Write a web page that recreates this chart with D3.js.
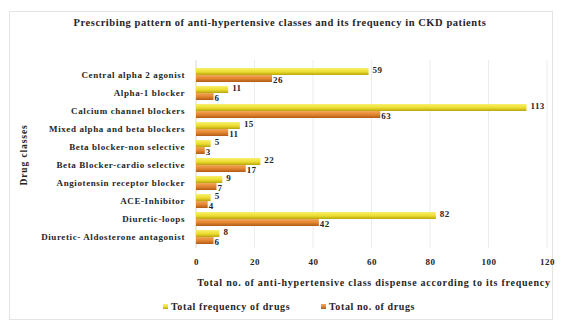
<!DOCTYPE html>
<html><head><meta charset="utf-8">
<script src="https://cdn.jsdelivr.net/npm/d3@7"></script>
<style>body{margin:0;background:#fff}svg{display:block}text{font-family:"Liberation Serif","DejaVu Serif",serif;font-weight:bold;fill:#262626}</style>
</head><body><svg id="c" width="561" height="322"></svg>
<script>
const categories = ["Central alpha 2 agonist","Alpha-1 blocker","Calcium channel blockers","Mixed alpha and beta blockers","Beta blocker-non selective","Beta Blocker-cardio selective","Angiotensin receptor blocker","ACE-Inhibitor","Diuretic-loops","Diuretic- Aldosterone antagonist"];
const totalFrequency = [59, 11, 113, 15, 5, 22, 9, 5, 82, 8];
const totalNo = [26, 6, 63, 11, 3, 17, 7, 4, 42, 6];
const xTicks = [0, 20, 40, 60, 80, 100, 120];
const seriesNames = ["Total frequency of drugs", "Total no. of drugs"];

const svg = d3.select("#c");
const defs = svg.append("defs");
function grad(id, c1, c2, c3){
  const g = defs.append("linearGradient").attr("id", id).attr("x1",0).attr("y1",0).attr("x2",0).attr("y2",1);
  g.append("stop").attr("offset","0%").attr("stop-color",c1);
  g.append("stop").attr("offset","55%").attr("stop-color",c2);
  g.append("stop").attr("offset","100%").attr("stop-color",c3);
}
grad("gy","#f8f070","#ecdc2e","#b8a510");
grad("go","#f2a85a","#e0822c","#b05a18");

svg.append("rect").attr("x",9.5).attr("y",11.5).attr("width",543).attr("height",308).attr("fill","#fff").attr("stroke","#e4e4e4");

const x = d3.scaleLinear().domain([0,120]).range([196,547]);
const y = d3.scaleBand().domain(categories).range([66,246]).paddingInner(0.22).paddingOuter(0.11);
const sub = d3.scaleBand().domain(seriesNames).range([0,y.bandwidth()]).padding(0);

svg.append("text").attr("x",280).attr("y",26).attr("text-anchor","middle").attr("font-size",10.5).attr("letter-spacing",0.55)
  .text("Prescribing pattern of anti-hypertensive classes and its frequency in CKD patients");

const gx = svg.append("g").attr("transform","translate(0,249)")
  .call(d3.axisBottom(x).tickValues(xTicks).tickSize(0).tickPadding(10));
gx.select(".domain").remove();
gx.selectAll("text").attr("font-size",9).attr("font-family","Liberation Serif").attr("font-weight","bold").attr("fill","#262626").attr("letter-spacing",0.5);

svg.append("g").selectAll("line").data(xTicks.slice(1)).join("line")
  .attr("x1",d=>x(d)).attr("x2",d=>x(d)).attr("y1",60).attr("y2",248)
  .attr("stroke","#ececec").attr("stroke-width",1);
svg.append("line").attr("x1",x(0)).attr("x2",x(0)).attr("y1",60).attr("y2",248).attr("stroke","#d8d8d8");

const gy = svg.append("g").attr("transform","translate(194,0)")
  .call(d3.axisLeft(y).tickSize(0).tickPadding(9));
gy.select(".domain").remove();
gy.selectAll("text").attr("font-size",9).attr("font-family","Liberation Serif").attr("font-weight","bold").attr("fill","#262626").attr("letter-spacing",0.6);

const rows = categories.map((c,i)=>({c, f: totalFrequency[i], n: totalNo[i]}));
const g = svg.append("g");
g.selectAll(".bf").data(rows).join("rect")
  .attr("x",x(0)).attr("y",d=>y(d.c)+sub(seriesNames[0]))
  .attr("width",d=>x(d.f)-x(0)).attr("height",sub.bandwidth()).attr("fill","url(#gy)");
g.selectAll(".bn").data(rows).join("rect")
  .attr("x",x(0)).attr("y",d=>y(d.c)+sub(seriesNames[1]))
  .attr("width",d=>x(d.n)-x(0)).attr("height",sub.bandwidth()).attr("fill","url(#go)");
g.selectAll(".lf").data(rows).join("text")
  .attr("x",d=>x(d.f)+4).attr("y",d=>y(d.c)+sub(seriesNames[0])+sub.bandwidth()/2+2)
  .attr("font-size",9).attr("letter-spacing",0.4).text(d=>d.f);
g.selectAll(".ln").data(rows).join("text")
  .attr("x",d=>x(d.n)+1).attr("y",d=>y(d.c)+sub(seriesNames[1])+sub.bandwidth()/2+4)
  .attr("font-size",9).attr("letter-spacing",0.4).text(d=>d.n);

svg.append("text").attr("x",374).attr("y",286).attr("text-anchor","middle").attr("font-size",10).attr("letter-spacing",0.75)
  .text("Total no. of  anti-hypertensive class dispense according to its frequency");
svg.append("text").attr("transform","translate(27,155) rotate(-90)").attr("text-anchor","middle").attr("font-size",9.5).attr("letter-spacing",0.9).text("Drug classes");

const leg = svg.append("g");
const lx = [163, 321];
seriesNames.forEach((s,i)=>{
  leg.append("rect").attr("x",lx[i]).attr("y",304).attr("width",5).attr("height",5).attr("fill",i?"url(#go)":"url(#gy)");
  leg.append("text").attr("x",lx[i]+8).attr("y",310).attr("font-size",10).attr("letter-spacing",0.6).text(s);
});
</script></body></html>
